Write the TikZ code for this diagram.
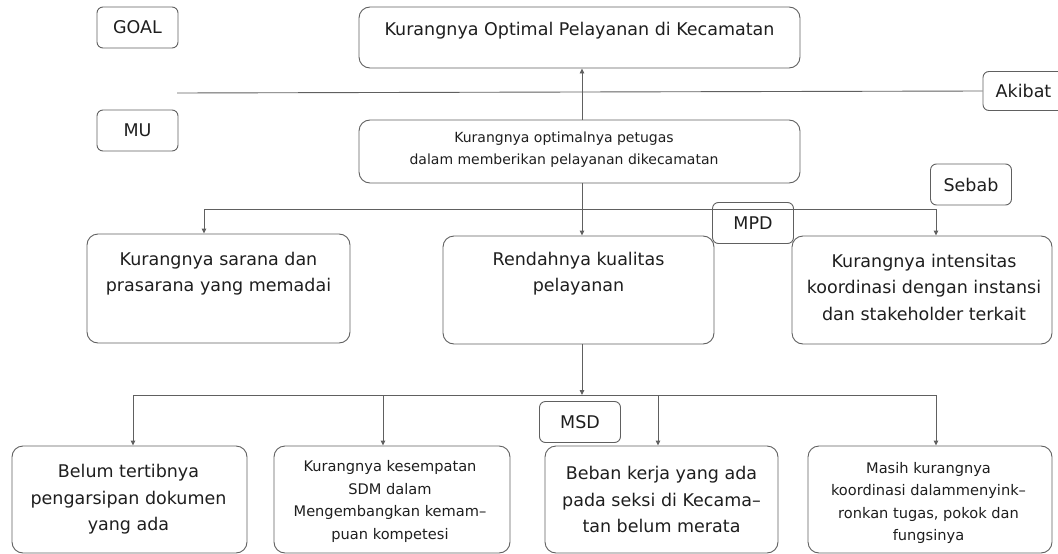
\documentclass[tikz,border=0pt]{standalone}
\usepackage{fontspec}
\setmainfont{DejaVu Sans}
\usetikzlibrary{arrows.meta}
\definecolor{lg}{HTML}{606060}
\definecolor{tx}{HTML}{1E1E1E}
\tikzset{
  bigbox/.style={draw=lg, line width=0.9pt, rounded corners=11pt, inner sep=0pt},
  labbox/.style={draw=lg, line width=0.9pt, rounded corners=6pt, inner sep=0pt, minimum width=81pt, minimum height=41pt, text=tx, font=\fontsize{17.5}{20}\selectfont},
  tbig/.style={text=tx, align=center, inner sep=0pt, font=\fontsize{17.5}{26.5}\selectfont},
  tmid/.style={text=tx, align=center, inner sep=0pt, font=\fontsize{14}{22.5}\selectfont},
  tsmall/.style={text=tx, align=center, inner sep=0pt, font=\fontsize{14.6}{22.5}\selectfont},
  conn/.style={draw=lg, line width=0.9pt},
  arr/.style={conn, -{Triangle[length=5pt,width=4.5pt]}}
}
\begin{document}
\begin{tikzpicture}[x=1pt,y=-1pt]
\useasboundingbox (0,0) rectangle (1058,554);
% label boxes
\node[labbox] (goal) at (137.5,27.5) {GOAL};
\node[labbox] (mu) at (137.5,130.5) {MU};
\node[labbox, minimum height=39pt] (akibat) at (1023.5,91) {Akibat};
\node[labbox] (sebab) at (971,184.5) {Sebab};
\node[labbox] (mpd) at (753,223) {MPD};
\node[labbox] (msd) at (580,422) {MSD};
% main boxes
\node[bigbox, minimum width=441pt, minimum height=61pt] (top) at (579.5,37.5) {};
\node[tbig] (toptxt) at (579.5,31) {Kurangnya Optimal Pelayanan di Kecamatan};
\node[bigbox, minimum width=441pt, minimum height=63pt] (mu2) at (579.5,151.5) {};
\node[tmid] (mu2txt) at (564,149.5) {Kurangnya optimalnya petugas\\dalam memberikan pelayanan dikecamatan};
\node[bigbox, minimum width=263pt, minimum height=109pt] (lbox) at (218.5,288.5) {};
\node[tbig] (lboxtxt) at (218.5,273.5) {Kurangnya sarana dan\\prasarana yang memadai};
\node[bigbox, minimum width=271pt, minimum height=108pt] (mbox) at (578.5,290) {};
\node[tbig] (mboxtxt) at (578.5,273.5) {Rendahnya kualitas\\pelayanan};
\node[bigbox, minimum width=260pt, minimum height=108pt] (rbox) at (922,290) {};
\node[tbig] (rboxtxt) at (924,287) {Kurangnya intensitas\\koordinasi dengan instansi\\dan stakeholder terkait};
% bottom boxes
\node[bigbox, minimum width=235pt, minimum height=107pt] (b1) at (129.5,499.5) {};
\node[tbig] (b1txt) at (128.5,499.5) {Belum tertibnya\\pengarsipan dokumen\\yang ada};
\node[bigbox, minimum width=236pt, minimum height=107pt] (b2) at (392,499.5) {};
\node[tsmall] (b2txt) at (390,501.5) {Kurangnya kesempatan\\SDM dalam\\Mengembangkan kemam--\\puan kompetesi};
\node[bigbox, minimum width=233pt, minimum height=107pt] (b3) at (661.5,499.5) {};
\node[tbig] (b3txt) at (661.5,499.5) {Beban kerja yang ada\\pada seksi di Kecama--\\tan belum merata};
\node[bigbox, minimum width=244pt, minimum height=107pt] (b4) at (930,499.5) {};
\node[tsmall] (b4txt) at (928.5,503) {Masih kurangnya\\koordinasi dalammenyink--\\ronkan tugas, pokok dan\\fungsinya};
% divider
\coordinate (dl) at (177,93);
\draw[conn] (dl) -- (akibat.west);
% connectors
\draw[arr] ([xshift=2.5pt]mu2.north) -- ([xshift=2.5pt]top.south);
\coordinate (j1) at (582,209);
\draw[conn] ([xshift=2.5pt]mu2.south) -- (j1);
\draw[arr] (j1) -| ([xshift=-14.5pt]lbox.north);
\draw[arr] (j1) -- ([xshift=3.5pt]mbox.north);
\draw[arr] (j1) -| ([xshift=14pt]rbox.north);
\coordinate (j2) at (582,395);
\draw[arr] ([xshift=3.5pt]mbox.south) -- (j2);
\draw[arr] (j2) -| ([xshift=3.5pt]b1.north);
\draw[arr] (j2) -| ([xshift=-9pt]b2.north);
\draw[arr] (j2) -| ([xshift=-3.5pt]b3.north);
\draw[arr] (j2) -| ([xshift=6pt]b4.north);
\end{tikzpicture}
\end{document}
